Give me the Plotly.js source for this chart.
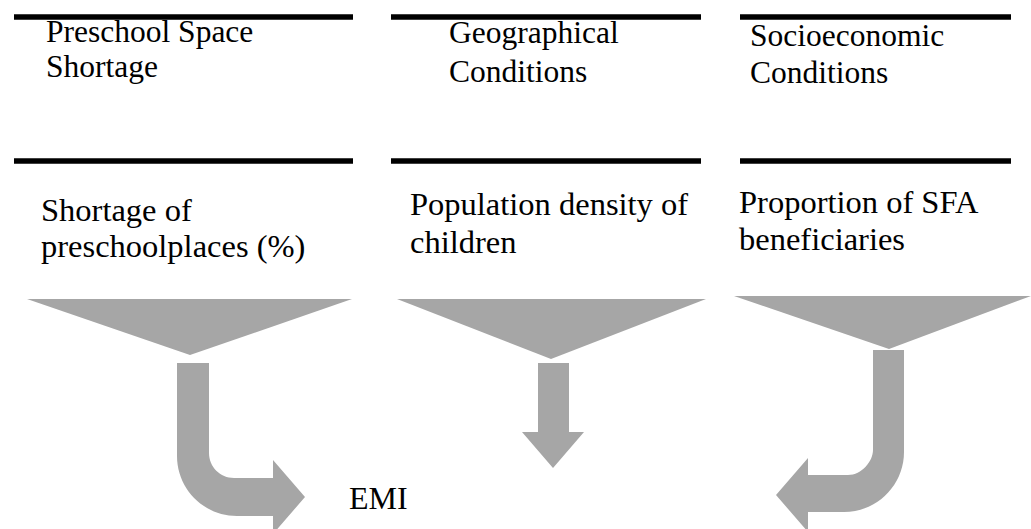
<!DOCTYPE html>
<html>
<head>
<meta charset="utf-8">
<script src="https://cdn.plot.ly/plotly-3.0.1.min.js"></script>
<style>
  html, body { margin: 0; padding: 0; background: #ffffff; }
  #chart { width: 1031px; height: 529px; }
</style>
</head>
<body>
<div id="chart"></div>
<script>
// ---- content ----
const categories = ["Preschool Space Shortage", "Geographical Conditions", "Socioeconomic Conditions"];
const categoryLines = [["Preschool Space", "Shortage"], ["Geographical", "Conditions"], ["Socioeconomic", "Conditions"]];
const indicatorLines = [["Shortage of", "preschoolplaces (%)"], ["Population density of", "children"], ["Proportion of SFA", "beneficiaries"]];
const arrowKinds = ["bendRight", "straight", "bendLeft"];
const target = "EMI";

// ---- geometry (pixel space: x 0..1031, y 0..529 top-down) ----
const W = 1031, H = 529;
const panels = [
  { x0: 14, x1: 353, topLine: 17, midLine: 161, headX: 45, headY: [31.4, 66.4], indX: 40, indY: [210, 246],
    tri: [[27, 299], [352, 299], [190, 355]] },
  { x0: 391, x1: 701, topLine: 17, midLine: 161, headX: 448, headY: [32, 71], indX: 409, indY: [204, 242],
    tri: [[397, 299], [706, 299], [551, 359]] },
  { x0: 740, x1: 1011, topLine: 17, midLine: 161, headX: 749, headY: [35, 72.7], indX: 738, indY: [202, 239],
    tri: [[734, 296], [1031, 296], [889, 349]] }
];
const targetPos = { x: 348, y: 498 };

const GRAY = "#A6A6A6";
const FONT = "'Liberation Serif', 'Times New Roman', Times, serif";
const K = 0.5523;

function arrowPath(kind) {
  if (kind === "bendRight") {
    const xl = 177, xr = 209, top = 363, yt = 478, yb = 516, hb = 273, tipX = 305, tipY = 497, hh = 37, R = 60, r = 25;
    return `M ${xl} ${top} L ${xr} ${top} L ${xr} ${yt - r} ` +
      `C ${xr} ${yt - r + r * K} ${xr + r - r * K} ${yt} ${xr + r} ${yt} ` +
      `L ${hb} ${yt} L ${hb} ${tipY - hh} L ${tipX} ${tipY} L ${hb} ${tipY + hh} L ${hb} ${yb} ` +
      `L ${xl + R} ${yb} C ${xl + R - R * K} ${yb} ${xl} ${yb - R + R * K} ${xl} ${yb - R} Z`;
  }
  if (kind === "straight") {
    const xl = 538, xr = 569, top = 363, neck = 432, hl = 522, hr = 584, tipX = 553, tipY = 468;
    return `M ${xl} ${top} L ${xr} ${top} L ${xr} ${neck} L ${hr} ${neck} L ${tipX} ${tipY} L ${hl} ${neck} L ${xl} ${neck} Z`;
  }
  // bendLeft
  const xl = 873, xr = 904, top = 350, yt = 475, yb = 512, hb = 808, tipX = 776, tipY = 495, hh = 37, R = 60, r = 25;
  return `M ${xl} ${top} L ${xr} ${top} L ${xr} ${yb - R} ` +
    `C ${xr} ${yb - R + R * K} ${xr - R + R * K} ${yb} ${xr - R} ${yb} ` +
    `L ${hb} ${yb} L ${hb} ${tipY + hh} L ${tipX} ${tipY} L ${hb} ${tipY - hh} L ${hb} ${yt} ` +
    `L ${xl - r} ${yt} C ${xl - r + r * K} ${yt} ${xl} ${yt - r * K} ${xl} ${yt - r} Z`;
}

const shapes = [];
const annotations = [];

categories.forEach((cat, i) => {
  const p = panels[i];
  // horizontal rules
  [p.topLine, p.midLine].forEach(y => {
    shapes.push({ type: "rect", xref: "x", yref: "y", x0: p.x0, x1: p.x1, y0: y - 2.7, y1: y + 2.7,
      fillcolor: "#000000", line: { width: 0 } });
  });
  // funnel triangle
  const t = p.tri;
  shapes.push({ type: "path", xref: "x", yref: "y",
    path: `M ${t[0][0]} ${t[0][1]} L ${t[1][0]} ${t[1][1]} L ${t[2][0]} ${t[2][1]} Z`,
    fillcolor: GRAY, line: { width: 0 } });
  // arrow
  shapes.push({ type: "path", xref: "x", yref: "y", path: arrowPath(arrowKinds[i]),
    fillcolor: GRAY, line: { width: 0 } });
  // header text
  categoryLines[i].forEach((txt, j) => {
    annotations.push({ xref: "x", yref: "y", x: p.headX, y: p.headY[j], text: txt, showarrow: false,
      xanchor: "left", yanchor: "middle", borderpad: 0,
      font: { family: FONT, size: 31.5, color: "#000000" } });
  });
  // indicator text
  indicatorLines[i].forEach((txt, j) => {
    annotations.push({ xref: "x", yref: "y", x: p.indX, y: p.indY[j], text: txt, showarrow: false,
      xanchor: "left", yanchor: "middle", borderpad: 0,
      font: { family: FONT, size: 32.5, color: "#000000" } });
  });
});

annotations.push({ xref: "x", yref: "y", x: targetPos.x, y: targetPos.y, text: target, showarrow: false,
  xanchor: "left", yanchor: "middle", borderpad: 0,
  font: { family: FONT, size: 32, color: "#000000" } });

const layout = {
  width: W, height: H,
  margin: { l: 0, r: 0, t: 0, b: 0, pad: 0 },
  paper_bgcolor: "#ffffff", plot_bgcolor: "#ffffff",
  xaxis: { range: [0, W], visible: false, fixedrange: true },
  yaxis: { range: [H, 0], visible: false, fixedrange: true },
  showlegend: false,
  shapes: shapes,
  annotations: annotations
};

Plotly.newPlot("chart", [{ x: [], y: [], type: "scatter", mode: "markers", hoverinfo: "skip" }], layout,
  { staticPlot: true, displayModeBar: false, responsive: false });
</script>
</body>
</html>
